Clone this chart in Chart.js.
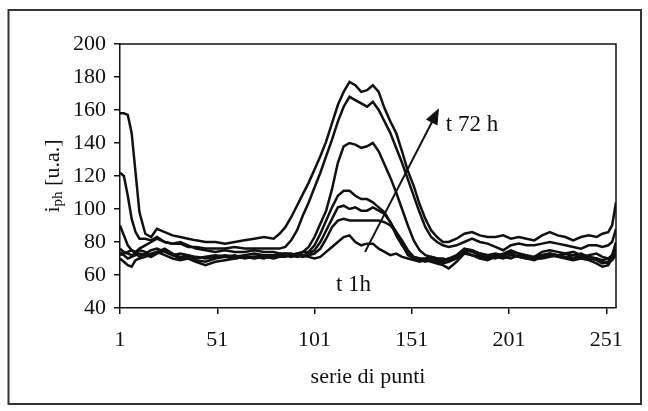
<!DOCTYPE html>
<html>
<head>
<meta charset="utf-8">
<title>iph - serie di punti</title>
<script src="https://cdn.jsdelivr.net/npm/chart.js@4.4.0/dist/chart.umd.min.js"></script>
<style>
  html, body { margin: 0; padding: 0; background: #fff; }
  #chart { display: block; }
</style>
</head>
<body>
<canvas id="chart" width="648" height="411"></canvas>
<script>
// sample positions along the "serie di punti" axis
const xPoints = [1, 3, 5, 7, 9, 11, 14, 17, 20, 24, 28, 32, 36, 40, 45, 50, 55, 60, 65, 70, 75, 80,
  83, 86, 89, 92, 95, 98, 101, 104, 107, 110, 113, 116, 119, 122, 125, 128, 131, 134, 137, 140,
  143, 146, 149, 152, 155, 158, 161, 164, 167, 170, 174, 178, 182, 186, 190, 194, 198, 202, 206,
  210, 214, 218, 222, 226, 230, 234, 238, 242, 246, 249, 252, 254, 256];

// curves from t 72 h (top) down to t 1h (bottom), values in u.a.
const curve72h = [158, 158, 157, 146, 122, 98, 85, 83, 88, 86, 84, 83, 82, 81, 80, 80, 79, 80, 81, 82, 83, 82,
  85, 89, 95, 102, 109, 116, 124, 132, 141, 152, 163, 171, 177, 175, 171, 172, 175, 171, 161, 153,
  146, 135, 123, 114, 103, 94, 87, 83, 80, 80, 82, 85, 86, 84, 83, 83, 84, 82, 83,
  82, 81, 84, 86, 84, 83, 81, 83, 84, 83, 85, 86, 90, 104];
const curve2 = [122, 120, 108, 94, 86, 82, 82, 81, 83, 80, 79, 79, 77, 77, 76, 76, 76, 77, 76, 76, 76, 76,
  76, 77, 81, 87, 96, 104, 113, 122, 132, 142, 153, 162, 168, 166, 164, 162, 165, 160, 153, 146,
  137, 128, 118, 108, 98, 89, 83, 80, 78, 77, 78, 80, 82, 80, 79, 77, 75, 78, 79,
  78, 78, 79, 80, 79, 78, 77, 76, 78, 78, 77, 78, 80, 88];
const curve3 = [90, 84, 78, 75, 74, 76, 78, 80, 82, 80, 79, 80, 78, 76, 75, 74, 75, 74, 74, 75, 74, 74,
  73, 73, 73, 72, 74, 77, 83, 91, 99, 112, 128, 138, 140, 139, 137, 138, 140, 135, 127, 119,
  110, 100, 90, 81, 75, 72, 71, 70, 70, 69, 71, 74, 75, 73, 72, 73, 72, 74, 73,
  72, 71, 74, 75, 74, 73, 72, 71, 72, 73, 71, 70, 72, 80];
const curve4 = [76, 74, 73, 72, 73, 75, 74, 72, 74, 76, 73, 71, 72, 71, 70, 71, 72, 71, 72, 73, 72, 71,
  72, 73, 72, 73, 74, 74, 78, 85, 93, 101, 108, 111, 111, 108, 106, 106, 104, 101, 98, 92,
  84, 78, 73, 71, 70, 69, 68, 67, 66, 64, 68, 73, 72, 70, 69, 71, 70, 72, 71,
  70, 69, 71, 72, 71, 70, 69, 70, 69, 67, 65, 66, 70, 76];
const curve5 = [74, 72, 70, 71, 72, 73, 72, 71, 73, 75, 72, 70, 71, 69, 68, 70, 71, 70, 71, 71, 72, 72,
  71, 71, 72, 73, 72, 73, 75, 80, 87, 94, 101, 102, 100, 101, 99, 99, 101, 99, 97, 92,
  86, 79, 72, 70, 69, 68, 69, 68, 67, 68, 70, 74, 72, 71, 70, 72, 71, 70, 72,
  71, 70, 70, 71, 72, 71, 70, 71, 70, 69, 67, 68, 72, 75];
const curve6 = [72, 73, 74, 75, 73, 71, 73, 75, 76, 74, 72, 73, 72, 70, 71, 72, 71, 72, 70, 71, 70, 72,
  73, 72, 71, 72, 71, 72, 73, 76, 82, 89, 93, 94, 93, 93, 93, 93, 93, 93, 92, 90,
  86, 81, 75, 71, 70, 70, 71, 70, 69, 70, 71, 75, 74, 72, 71, 70, 72, 73, 71,
  70, 71, 72, 73, 72, 71, 72, 73, 71, 70, 69, 70, 71, 74];
const curve1h = [70, 68, 66, 65, 69, 70, 71, 73, 74, 72, 70, 69, 70, 68, 66, 68, 69, 70, 71, 70, 71, 70,
  71, 72, 72, 71, 72, 71, 70, 71, 74, 77, 80, 83, 84, 80, 78, 79, 79, 76, 74, 72,
  73, 71, 70, 69, 68, 69, 70, 69, 68, 70, 72, 76, 75, 73, 72, 71, 73, 75, 73,
  71, 70, 72, 73, 72, 73, 74, 72, 71, 70, 68, 67, 69, 72];

const allCurves = [curve72h, curve2, curve3, curve4, curve5, curve6, curve1h];

const xTickValues = [1, 51, 101, 151, 201, 251];
const yTickValues = [40, 60, 80, 100, 120, 140, 160, 180, 200];

// arrow and labels, in data units
const arrowFrom = [127, 74];
const arrowTo = [165, 161];
const topLabel = { text: 't 72 h', x: 168.5, y: 151 };
const bottomLabel = { text: 't 1h', x: 112, y: 54 };

const serif = '"Liberation Serif", "Times New Roman", serif';
const ink = '#111';

Chart.defaults.font.family = serif;
Chart.defaults.font.size = 22;
Chart.defaults.color = ink;

const datasets = allCurves.map(vals => ({
  data: vals.map((v, i) => ({ x: xPoints[i], y: v })),
  borderColor: ink,
  borderWidth: 2.5,
  pointRadius: 0,
  tension: 0,
  fill: false
}));

// page frame + white background
const framePlugin = {
  id: 'frame',
  beforeDraw(chart) {
    const ctx = chart.ctx;
    ctx.save();
    ctx.fillStyle = '#fff';
    ctx.fillRect(0, 0, chart.width, chart.height);
    ctx.strokeStyle = '#333';
    ctx.lineWidth = 2;
    ctx.strokeRect(8.5, 10, 632.5, 394);
    ctx.restore();
  }
};

// closes the plot box on top and right
const boxPlugin = {
  id: 'box',
  afterDraw(chart) {
    const { ctx, chartArea: a } = chart;
    ctx.save();
    ctx.strokeStyle = ink;
    ctx.lineWidth = 1.5;
    ctx.beginPath();
    ctx.moveTo(a.left, a.top);
    ctx.lineTo(a.right, a.top);
    ctx.lineTo(a.right, a.bottom);
    ctx.stroke();
    ctx.restore();
  }
};

// y title with the "ph" subscript
const yTitlePlugin = {
  id: 'yTitle',
  afterDraw(chart) {
    const ctx = chart.ctx;
    const a = chart.chartArea;
    const mid = (a.top + a.bottom) / 2;
    const big = '22px ' + serif;
    const small = '15px ' + serif;
    ctx.save();
    ctx.fillStyle = ink;
    ctx.font = big;
    const w1 = ctx.measureText('i').width;
    const w3 = ctx.measureText(' [u.a.]').width;
    ctx.font = small;
    const w2 = ctx.measureText('ph').width;
    const total = w1 + w2 + w3;
    ctx.translate(59, mid);
    ctx.rotate(-Math.PI / 2);
    ctx.textBaseline = 'alphabetic';
    let x = -total / 2;
    ctx.font = big;
    ctx.fillText('i', x, 0);
    x += w1;
    ctx.font = small;
    ctx.fillText('ph', x, 3);
    x += w2;
    ctx.font = big;
    ctx.fillText(' [u.a.]', x, 0);
    ctx.restore();
  }
};

// arrow t 1h -> t 72 h with its labels
const notesPlugin = {
  id: 'notes',
  afterDatasetsDraw(chart) {
    const { ctx, scales: { x: xs, y: ys } } = chart;
    const x0 = xs.getPixelForValue(arrowFrom[0]);
    const y0 = ys.getPixelForValue(arrowFrom[1]);
    const x1 = xs.getPixelForValue(arrowTo[0]);
    const y1 = ys.getPixelForValue(arrowTo[1]);
    const ang = Math.atan2(y1 - y0, x1 - x0);
    const headLen = 16, headHalf = 6.5;
    ctx.save();
    ctx.strokeStyle = ink;
    ctx.fillStyle = ink;
    ctx.lineWidth = 2;
    ctx.beginPath();
    ctx.moveTo(x0, y0);
    ctx.lineTo(x1 - Math.cos(ang) * headLen * 0.8, y1 - Math.sin(ang) * headLen * 0.8);
    ctx.stroke();
    ctx.beginPath();
    ctx.moveTo(x1, y1);
    ctx.lineTo(x1 - Math.cos(ang) * headLen - Math.sin(ang) * headHalf,
               y1 - Math.sin(ang) * headLen + Math.cos(ang) * headHalf);
    ctx.lineTo(x1 - Math.cos(ang) * headLen + Math.sin(ang) * headHalf,
               y1 - Math.sin(ang) * headLen - Math.cos(ang) * headHalf);
    ctx.closePath();
    ctx.fill();

    ctx.font = '23px ' + serif;
    ctx.textAlign = 'left';
    ctx.textBaseline = 'middle';
    ctx.fillText(topLabel.text, xs.getPixelForValue(topLabel.x), ys.getPixelForValue(topLabel.y));
    ctx.fillText(bottomLabel.text, xs.getPixelForValue(bottomLabel.x), ys.getPixelForValue(bottomLabel.y));
    ctx.restore();
  }
};

const chart = new Chart(document.getElementById('chart'), {
  type: 'line',
  data: { datasets },
  options: {
    responsive: false,
    animation: false,
    layout: { padding: { top: 44, right: 32, left: 0, bottom: 0 } },
    plugins: {
      legend: { display: false },
      tooltip: { enabled: false }
    },
    scales: {
      x: {
        type: 'linear',
        min: 1,
        max: 256,
        afterBuildTicks: s => { s.ticks = xTickValues.map(v => ({ value: v })); },
        afterFit: s => { s.height = 103; },
        ticks: { padding: 13, maxRotation: 0, autoSkip: false, color: ink, font: { size: 22 } },
        grid: { drawOnChartArea: false, color: ink, tickLength: 6, lineWidth: 1.5 },
        border: { color: ink, width: 1.5 },
        title: {
          display: true,
          text: 'serie di punti',
          color: ink,
          font: { size: 22 },
          padding: { top: 0, bottom: 21 }
        }
      },
      y: {
        min: 40,
        max: 200,
        afterBuildTicks: s => { s.ticks = yTickValues.map(v => ({ value: v })); },
        afterFit: s => { s.width = 120; },
        ticks: { padding: 8, color: ink, font: { size: 22 } },
        grid: { drawOnChartArea: false, color: ink, tickLength: 6, lineWidth: 1.5 },
        border: { color: ink, width: 1.5 }
      }
    }
  },
  plugins: [framePlugin, boxPlugin, yTitlePlugin, notesPlugin]
});
</script>
</body>
</html>
